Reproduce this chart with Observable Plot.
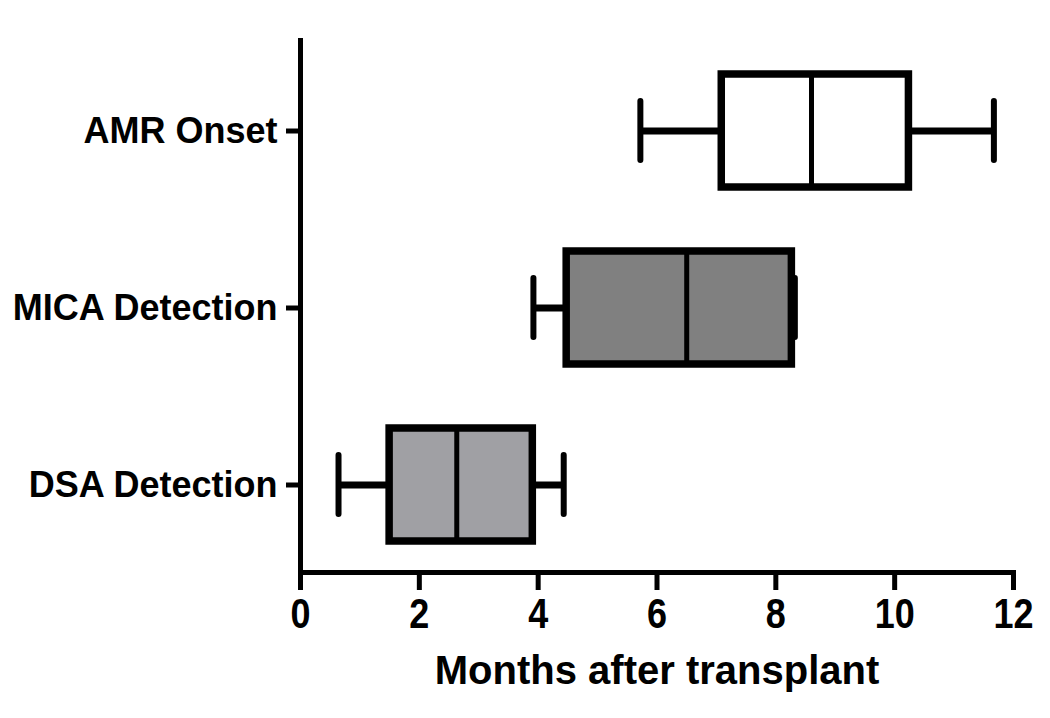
<!DOCTYPE html>
<html>
<head>
<meta charset="utf-8">
<script src="https://cdn.jsdelivr.net/npm/d3@7"></script>
<script src="https://cdn.jsdelivr.net/npm/@observablehq/plot@0.6"></script>
<style>
  html, body { margin: 0; padding: 0; background: #fff; }
</style>
</head>
<body>
<div id="chart"></div>
<script>
// Data (months after transplant)
const categories = ["AMR Onset", "MICA Detection", "DSA Detection"];
const whiskerLow = [5.72, 3.92, 0.64];
const q1 = [7.09, 4.48, 1.50];
const median = [8.60, 6.50, 2.63];
const q3 = [10.24, 8.27, 3.91];
const whiskerHigh = [11.67, 8.32, 4.43];
const fills = ["#ffffff", "#808080", "#a0a0a4"];
const xTicks = [0, 2, 4, 6, 8, 10, 12];
const xLabel = "Months after transplant";

const rows = categories.map((c, i) => ({
  cat: c, lo: whiskerLow[i], q1: q1[i], med: median[i], q3: q3[i], hi: whiskerHigh[i], fill: fills[i]
}));

const chart = Plot.plot({
  width: 1050,
  height: 718,
  marginLeft: 300,
  marginRight: 37,
  marginTop: 40,
  marginBottom: 146,
  style: { background: "#fff", color: "#000" },
  x: { domain: [0, 12], ticks: xTicks },
  y: { type: "band", domain: categories, paddingInner: 0.36, paddingOuter: 0.18, range: [42, 574] },
  marks: [
    // whiskers
    Plot.ruleY(rows, { y: "cat", x1: "lo", x2: "q1", stroke: "#000", strokeWidth: 7 }),
    Plot.ruleY(rows, { y: "cat", x1: "q3", x2: "hi", stroke: "#000", strokeWidth: 7 }),
    // whisker caps
    Plot.tickX(rows, { y: "cat", x: "lo", stroke: "#000", strokeWidth: 6, strokeLinecap: "round", insetTop: 27, insetBottom: 27 }),
    Plot.tickX(rows, { y: "cat", x: "hi", stroke: "#000", strokeWidth: 6, strokeLinecap: "round", insetTop: 27, insetBottom: 27 }),
    // boxes
    Plot.barX(rows, { y: "cat", x1: "q1", x2: "q3", fill: "fill", stroke: "#000", strokeWidth: 7.5 }),
    // medians
    Plot.tickX(rows, { y: "cat", x: "med", stroke: "#000", strokeWidth: 5 }),
    // axis lines
    Plot.frame({ anchor: "left", stroke: "#000", strokeWidth: 5 }),
    Plot.frame({ anchor: "bottom", stroke: "#000", strokeWidth: 5 }),
    Plot.axisY({
      tickSize: 14, tickPadding: 9, strokeWidth: 5, label: null,
      fontSize: 36, fontWeight: "bold", fontFamily: "Liberation Sans, Arial, sans-serif", fill: "#000", stroke: "#000"
    }),
    Plot.axisX({
      ticks: xTicks, tickSize: 18, tickPadding: 8, strokeWidth: 5, tickFormat: d3.format("d"),
      label: xLabel, labelAnchor: "center", labelArrow: false, labelOffset: 111,
      className: "xax",
      fontSize: 40, fontWeight: "bold", fontFamily: "Liberation Sans, Arial, sans-serif", fill: "#000", stroke: "#000"
    })
  ]
});

// slightly condensed look of the x-axis texts, as in the reference
d3.select(chart).selectAll("text").each(function () {
  const g = this.closest("g");
  if (!g || !g.closest(".xax") && !(g.getAttribute("class") || "").includes("xax")) return;
  const t = this.getAttribute("transform");
  if (t) this.setAttribute("transform", t + " scale(0.9,1.05)");
});

document.getElementById("chart").appendChild(chart);
</script>
</body>
</html>
